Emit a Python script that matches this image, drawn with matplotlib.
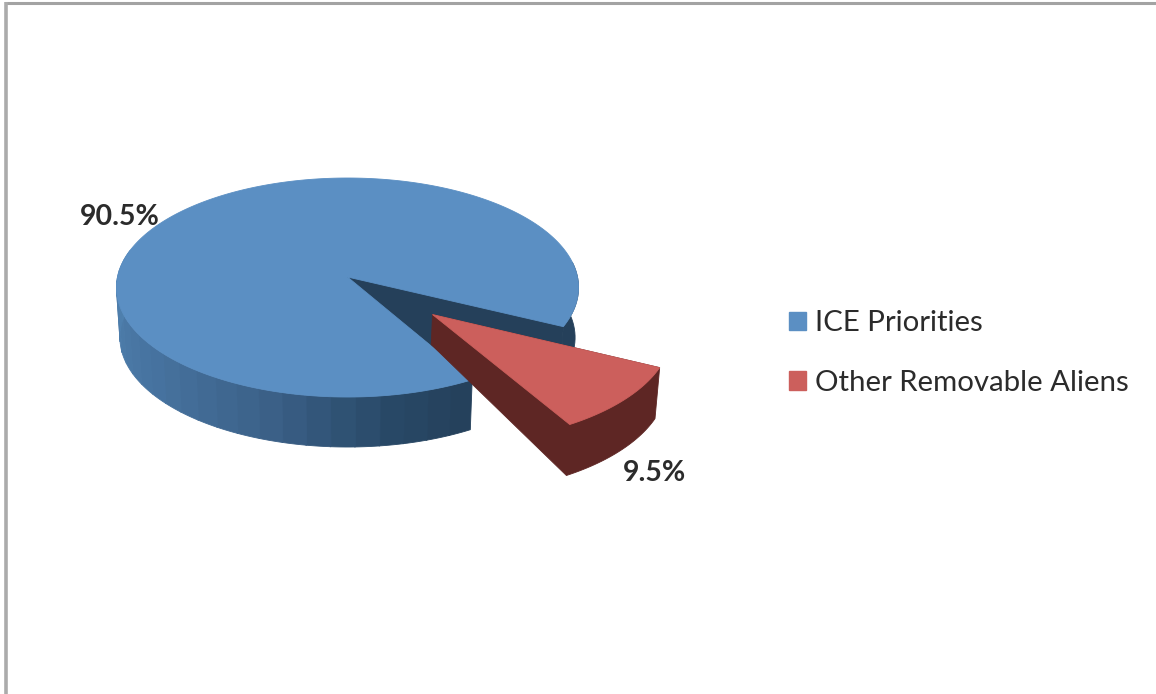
#!/usr/bin/env python3
# -*- coding: utf-8 -*-
"""
Pie chart, drawn by hand in a perspective view with one slice pulled out.
"""
import numpy as np
import matplotlib
matplotlib.use("Agg")
import matplotlib.pyplot as plt
from matplotlib.patches import Patch, Polygon

plt.rcParams['font.family'] = ['Lato', 'DejaVu Sans']

categories = ["ICE Priorities", "Other Removable Aliens"]
shares = [90.5, 9.5]

W, H = 1156, 694

BLUE = "#5b8fc3"
RED = "#cc5f5c"
NAVY = "#25405a"
MAROON = "#5e2624"
TEXT = "#2b2b2b"

# projection of the pie plane onto the page
CX, CY = 347.5, 277
AX, BY = 230, 108.5
K = 0.096
RIM_DEPTH = 50
APEX_DEPTH = 30
SHRINK = 0.985   # lower face comes out a touch narrower


def project(X, Y):
    w = 1 - K * np.asarray(Y)
    return CX + AX * np.asarray(X) / w, CY + BY * np.asarray(Y) / w


def lower(x, y, depth):
    return CX + (np.asarray(x) - CX) * SHRINK, np.asarray(y) + depth


def arc(t0, t1, ox=0, oy=0, n=80):
    t = np.radians(np.linspace(t0, t1, n))
    return project(ox + np.cos(t), oy + np.sin(t))


def poly(ax, x, y, color, z):
    ax.add_patch(Polygon(np.column_stack([x, y]), closed=True, facecolor=color,
                         edgecolor=color, linewidth=0.6, zorder=z))


def side_color(t):
    # rim gets darker going round from the left to the front right
    stops_t = [60, 80, 110, 140, 190]
    stops = np.array([[36, 64, 90], [40, 72, 102], [60, 98, 138],
                      [70, 114, 158], [80, 130, 176]]) / 255
    return [np.interp(t, stops_t, stops[:, i]) for i in range(3)]


fig = plt.figure(figsize=(W / 100, H / 100), dpi=100)
ax = fig.add_axes([0, 0, 1, 1])
ax.set_xlim(0, W)
ax.set_ylim(H, 0)
ax.axis("off")

# frame, only top and left are on the page
ax.plot([5, W], [3, 3], color="#a3a3a3", lw=2.2, solid_capstyle="butt")
ax.plot([5.5, 5.5], [2, H], color="#ababab", lw=2.6, solid_capstyle="butt")

# slice angles, clockwise on the page from the small slice's first edge
start = 26.0
sweep_small = shares[1] / sum(shares) * 360
end_small = start + sweep_small
mid_small = np.radians(start + sweep_small / 2)
explode = 0.49
ox, oy = explode * np.cos(mid_small), explode * np.sin(mid_small)

# outer wall of the big slice, in strips
edges = np.arange(end_small, 200, 5.6)
for t0, t1 in zip(edges[:-1], edges[1:] + 0.2):
    xt, yt = arc(t0, t1, n=6)
    xb, yb = lower(xt, yt, RIM_DEPTH)
    poly(ax, np.r_[xt, xb[::-1]], np.r_[yt, yb[::-1]], side_color((t0 + t1) / 2), 2)

# wall on the right of the gap, then the cut face and the gap itself
xt, yt = arc(-8, start, n=20)
xb, yb = lower(xt, yt, RIM_DEPTH)
poly(ax, np.r_[xt, xb[::-1]], np.r_[yt, yb[::-1]], NAVY, 2)

xa, ya = project(0, 0)
xa2, ya2 = lower(xa, ya, APEX_DEPTH)
poly(ax, [xa, xt[-1], xb[-1], xa2], [ya, yt[-1], yb[-1], ya2], NAVY, 3)
xt, yt = arc(start, end_small, n=30)
poly(ax, np.r_[xa, xt], np.r_[ya, yt], NAVY, 3)

# top of the big slice
xt, yt = arc(end_small, start + 360, n=300)
poly(ax, np.r_[xa, xt], np.r_[ya, yt], BLUE, 4)

# pulled out slice, wall first
xa, ya = project(ox, oy)
xt, yt = arc(start, end_small, ox, oy, n=30)
xb, yb = lower(xt, yt, RIM_DEPTH + 1)
xa2, ya2 = lower(xa, ya, APEX_DEPTH)
poly(ax, np.r_[xa, xa2, xb[::-1], xt[0]], np.r_[ya, ya2, yb[::-1], yt[0]], MAROON, 5)
poly(ax, np.r_[xa, xt], np.r_[ya, yt], RED, 6)

# value labels
ax.text(119.5, 217, f"{shares[0]}%", ha="center", va="center", fontsize=20.5,
        color=TEXT, fontweight="bold", zorder=7)
ax.text(654, 473, f"{shares[1]}%", ha="center", va="center", fontsize=20.5,
        color=TEXT, fontweight="bold", zorder=7)

handles = [Patch(facecolor=BLUE, edgecolor=BLUE),
           Patch(facecolor=RED, edgecolor=RED)]
ax.legend(handles, categories, loc="center left", bbox_to_anchor=(789 / W, 1 - 353 / H),
          frameon=False, fontsize=21.2, labelcolor=TEXT, handlelength=0.58,
          handleheight=0.58, handletextpad=0.31, labelspacing=1.15,
          borderpad=0, borderaxespad=0)

fig.savefig("out.png", dpi=100)
